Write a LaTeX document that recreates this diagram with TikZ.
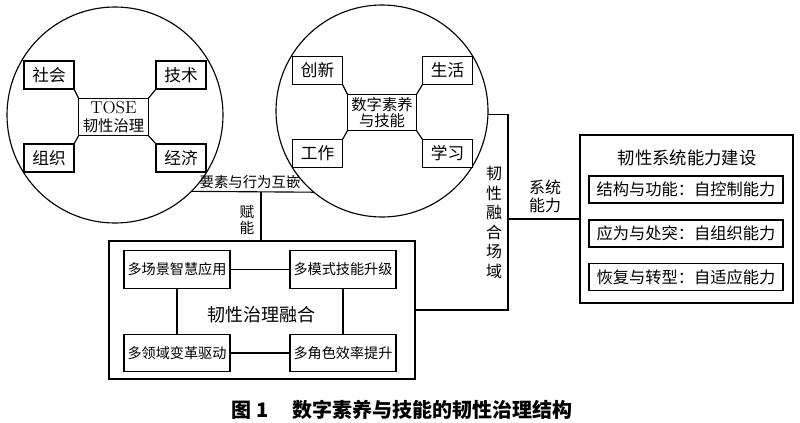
\documentclass[tikz,border=0pt]{standalone}
\usepackage{fontspec}
\newfontfamily\cjk{Noto Sans CJK SC}
\begin{document}
\begin{tikzpicture}[x=0.75pt,y=-0.75pt,
  every node/.style={font=\cjk, text=black},
  ln/.style={line width=0.85pt},
  box/.style={draw, line width=0.85pt, inner sep=1pt, outer sep=0pt, align=center, fill=white},
  cbox/.style={box, minimum width=37.5pt, minimum height=21pt, font=\cjk\fontsize{12.5}{14}\selectfont},
  hub/.style={box, minimum width=52pt, minimum height=27.5pt, font=\cjk\fontsize{11.5}{13}\selectfont},
  fbox/.style={box, minimum width=79.5pt, minimum height=28pt, font=\cjk\fontsize{10.6}{12}\selectfont},
  sbox/.style={box, minimum width=145.5pt, minimum height=20.25pt, font=\cjk\fontsize{12.2}{14}\selectfont},
  ring/.style={circle, draw, line width=0.85pt, inner sep=0pt, outer sep=0pt},
  lbl/.style={inner sep=0pt, align=center, font=\cjk\fontsize{10.8}{13}\selectfont}
]
\useasboundingbox (0,0) rectangle (800,422);

% left circle
\node[ring, minimum size=162pt] (lc) at (115,115) {};
\node[cbox] (sh) at (49,75) {社会};
\node[cbox] (js) at (181,75) {技术};
\node[cbox] (zz) at (49,158) {组织};
\node[cbox] (jj) at (181,158) {经济};
\node[hub, font=\cjk\fontsize{11.5}{14}\selectfont] (tose) at (113.5,117) {{\rmfamily\fontsize{13}{14}\selectfont TOSE}\\韧性治理};
\draw[ln] (sh.south east) -- (tose.north west);
\draw[ln] (js.south west) -- (tose.north east);
\draw[ln] (zz.north east) -- (tose.south west);
\draw[ln] (jj.north west) -- (tose.south east);

% right circle
\node[ring, minimum size=159pt] (rc) at (382,111) {};
\node[cbox] (cx) at (317.5,70.5) {创新};
\node[cbox] (shh) at (447.5,70.5) {生活};
\node[cbox] (gz) at (317.5,153.5) {工作};
\node[cbox] (xx) at (447.5,153.5) {学习};
\node[hub, font=\cjk\fontsize{11.5}{12.5}\selectfont] (sz) at (382,112.5) {数字素养\\与技能};
\draw[ln] (cx.south east) -- (sz.north west);
\draw[ln] (shh.south west) -- (sz.north east);
\draw[ln] (gz.north east) -- (sz.south west);
\draw[ln] (xx.north west) -- (sz.south east);

% link between circles
\draw[ln] (lc.-45.5) -- (rc.-130.2);
\node[lbl] (ys) at (250,182) {要素与行为互嵌};

% fusion box
\node[box, fill=none, minimum width=229.5pt, minimum height=103.5pt] (fuse) at (262,310) {};
\node[fbox] (a1) at (177,269.5) {多场景智慧应用};
\node[fbox] (a2) at (343,269.5) {多模式技能升级};
\node[fbox] (a3) at (177,353) {多领域变革驱动};
\node[fbox] (a4) at (343,353) {多角色效率提升};
\node[lbl, font=\cjk\fontsize{13.5}{15}\selectfont] (fl) at (261,315) {韧性治理融合};
\draw[ln] (a1.east) -- (a2.west);
\draw[ln] (a3.east) -- (a4.west);
\draw[ln] (a1.south) -- (a3.north);
\draw[ln] (a2.south) -- (a4.north);

\coordinate (fy) at (261,192);
\draw[ln] (fy) -- (fy |- fuse.north);
\node[lbl, font=\cjk\fontsize{11}{12.5}\selectfont] (fn) at (247,220) {赋\\能};

% right connector
\coordinate (jr) at (508,310);
\draw[ln] (rc.-2) -| (jr) -- (fuse.east);
\node[lbl, font=\cjk\fontsize{12}{14.6}\selectfont] (cy) at (494,222.5) {韧\\性\\融\\合\\场\\域};

% system box
\node[box, fill=none, minimum width=159.75pt, minimum height=126pt] (rb) at (686.5,219) {};
\node[lbl, font=\cjk\fontsize{13}{15}\selectfont] (rt) at (687,158) {韧性系统能力建设};
\node[sbox] (s1) at (686,189.5) {结构与功能：自控制能力};
\node[sbox] (s2) at (686,233.5) {应为与处突：自组织能力};
\node[sbox] (s3) at (686,277) {恢复与转型：自适应能力};
\coordinate (jm) at (508,219);
\draw[ln] (jm) -- (rb.west);
\node[lbl, font=\cjk\fontsize{12}{13.5}\selectfont] (xt) at (545,196) {系统\\能力};

% caption
\node[inner sep=0pt, font=\cjk\bfseries\fontsize{15}{17}\selectfont] (cap) at (402,410) {图~1\hspace{1.2em}数字素养与技能的韧性治理结构};
\end{tikzpicture}
\end{document}
